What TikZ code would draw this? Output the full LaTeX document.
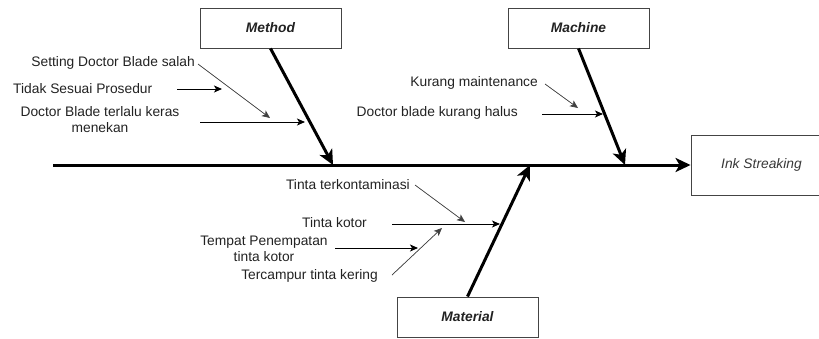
\documentclass[tikz,border=0pt]{standalone}
\usepackage{fontspec}
\setmainfont{Liberation Sans}
\usetikzlibrary{arrows.meta}
\definecolor{txt}{HTML}{222222}
\definecolor{boxline}{HTML}{444444}
\tikzset{
  causebox/.style={draw=boxline, line width=0.9pt, minimum width=141pt, minimum height=40pt, inner sep=0pt, font=\fontsize{13.8}{16}\selectfont\bfseries\itshape, text=txt},
  effectbox/.style={draw=boxline, line width=0.9pt, minimum width=141pt, minimum height=60pt, inner sep=0pt, font=\fontsize{13.8}{16}\selectfont\itshape, text=black!78},
  lbl/.style={inner sep=0pt, font=\fontsize{13.8}{16}\selectfont, text=txt, align=center},
  bone/.style={line width=3pt, -{Stealth[length=15pt, width=14pt, inset=4pt]}},
  sub/.style={line width=1pt, -{Stealth[length=8pt, width=7pt, inset=2pt]}},
  subthin/.style={line width=0.7pt, draw=black!75, -{Stealth[length=8pt, width=7pt, inset=2pt]}, fill=black!75}
}
\begin{document}
\begin{tikzpicture}[x=1pt, y=-1pt]
\useasboundingbox (0,0) rectangle (819,338);
% boxes
\node[causebox] (method) at (270.5,28) {Method};
\node[causebox] (machine) at (578.5,28) {Machine};
\node[causebox] (material) at (467.5,317) {Material};
\node[effectbox] (effect) at (761.5,165) {Ink Streaking};
% spine
\coordinate (tail) at (53,165);
\coordinate (jm) at (333,165);
\coordinate (jc) at (625,165);
\coordinate (jt) at (530,165);
\draw[bone] (tail) -- (effect.west);
\draw[bone] (method.south) -- (jm);
\draw[bone] (machine.south) -- (jc);
\draw[bone] (material.north) -- (jt);
% method causes
\node[lbl, anchor=east] (c1) at (195,63) {Setting Doctor Blade salah};
\node[lbl, anchor=west] (c2) at (13,89) {Tidak Sesuai Prosedur};
\node[lbl] (c3) at (100,120) {Doctor Blade terlalu keras\\menekan};
\coordinate (s1) at (198,64); \coordinate (e1) at (270,118);
\coordinate (s2) at (177,89); \coordinate (e2) at (222,89);
\coordinate (s3) at (200,122); \coordinate (e3) at (305,122);
\draw[subthin] (s1) -- (e1);
\draw[sub] (s2) -- (e2);
\draw[sub] (s3) -- (e3);
% machine causes
\node[lbl, anchor=east] (c4) at (538,83) {Kurang maintenance};
\node[lbl, anchor=east] (c5) at (518,113) {Doctor blade kurang halus};
\coordinate (s4) at (545,84); \coordinate (e4) at (578,108);
\coordinate (s5) at (542,114); \coordinate (e5) at (603,114);
\draw[subthin] (s4) -- (e4);
\draw[sub] (s5) -- (e5);
% material causes
\node[lbl, anchor=east] (c6) at (410,185) {Tinta terkontaminasi};
\node[lbl, anchor=east] (c7) at (367,223) {Tinta kotor};
\node[lbl] (c8) at (264,249) {Tempat Penempatan\\tinta kotor};
\node[lbl, anchor=east] (c9) at (378,276) {Tercampur tinta kering};
\coordinate (s6) at (415,185); \coordinate (e6) at (465,222);
\coordinate (s7) at (392,224); \coordinate (e7) at (500,224);
\coordinate (s8) at (335,248); \coordinate (e8) at (418,248);
\coordinate (s9) at (392,275); \coordinate (e9) at (442,228);
\draw[subthin] (s6) -- (e6);
\draw[sub] (s7) -- (e7);
\draw[sub] (s8) -- (e8);
\draw[subthin] (s9) -- (e9);
\end{tikzpicture}
\end{document}
